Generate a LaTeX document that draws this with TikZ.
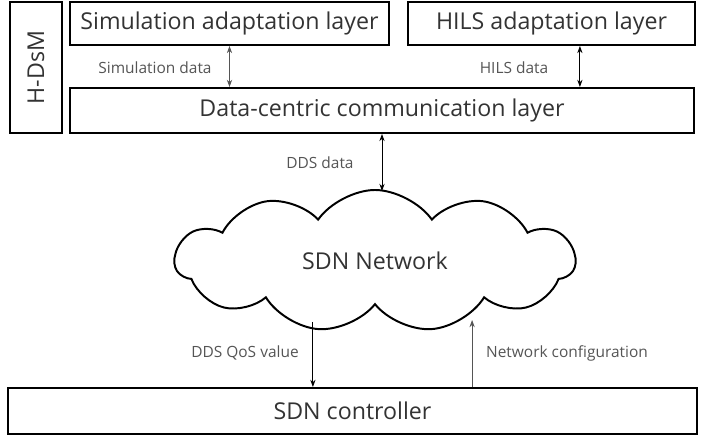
\documentclass[tikz,border=0pt]{standalone}
\usepackage{fontspec}
\setmainfont{Open Sans}
\usetikzlibrary{arrows.meta, positioning, calc, shapes.symbols}
\definecolor{inkgray}{HTML}{333333}
\definecolor{lblgray}{HTML}{555555}
\definecolor{arrgray}{HTML}{555555}

\begin{document}
\begin{tikzpicture}[
  >={Stealth[length=1.8mm, width=1.3mm]},
  every node/.style={text=inkgray},
  layer/.style={draw=black, line width=1.4pt, minimum height=1.1cm, inner sep=0pt, font=\fontsize{16.5}{18}\selectfont},
  lbl/.style={font=\fontsize{11}{13}\selectfont, text=lblgray},
  link/.style={line width=0.6pt},
]

% Background
\fill[white] (0,0) rectangle (17.625,10.975);
\useasboundingbox (0,0) rectangle (17.625,10.975);

% H-DsM side box
\node[layer, minimum width=3.275cm, minimum height=1.3cm, rotate=90] (hdsm) at (0.9,9.2875) {H-DsM};

% Adaptation layers
\node[layer, minimum width=7.975cm, minimum height=1.075cm] (sim) at (5.7375,10.3875) {Simulation adaptation layer};
\node[layer, minimum width=7.175cm, minimum height=1.075cm] (hils) at (13.7875,10.3875) {HILS adaptation layer};

% Data-centric communication layer
\node[layer, minimum width=15.6cm, minimum height=1.125cm] (dcc) at (9.55,8.2125) {Data-centric communication layer};

% SDN network cloud
\node[cloud, draw=black, line width=1.4pt, cloud puffs=11, cloud puff arc=110, aspect=2.6,
  minimum width=10cm, minimum height=3.55cm, font=\fontsize{16.5}{18}\selectfont] (net) at (9.375,4.45) {SDN Network};

% SDN controller
\node[layer, minimum width=17.225cm, minimum height=1.15cm] (ctrl) at (8.8125,0.7) {SDN controller};

% Arrows between layers
\draw[link, arrgray, <->] (sim.south) -- (sim.south |- dcc.north);
\draw[link, <->] ([xshift=0.71cm]hils.south) -- ([xshift=0.71cm]hils.south |- dcc.north);
\draw[link, <->] (dcc.south) -- ($(dcc.south |- net.north)+(0,-0.05)$);
\draw[link, ->] ([xshift=-0.99cm]ctrl.north |- 0,2.925) -- ([xshift=-0.99cm]ctrl.north);
\draw[link, arrgray, ->] ([xshift=2.99cm]ctrl.north) -- ([xshift=2.99cm]ctrl.north |- 0,2.975);

% Labels
\node[lbl] (simdata) at (3.875,9.275) {Simulation data};
\node[lbl] (hilsdata) at (12.85,9.275) {HILS data};
\node[lbl] (ddsdata) at (8.0,6.9) {DDS data};
\node[lbl] (qosval) at (6.125,2.15) {DDS QoS value};
\node[lbl] (netconf) at (14.175,2.15) {Network configuration};

\end{tikzpicture}
\end{document}
